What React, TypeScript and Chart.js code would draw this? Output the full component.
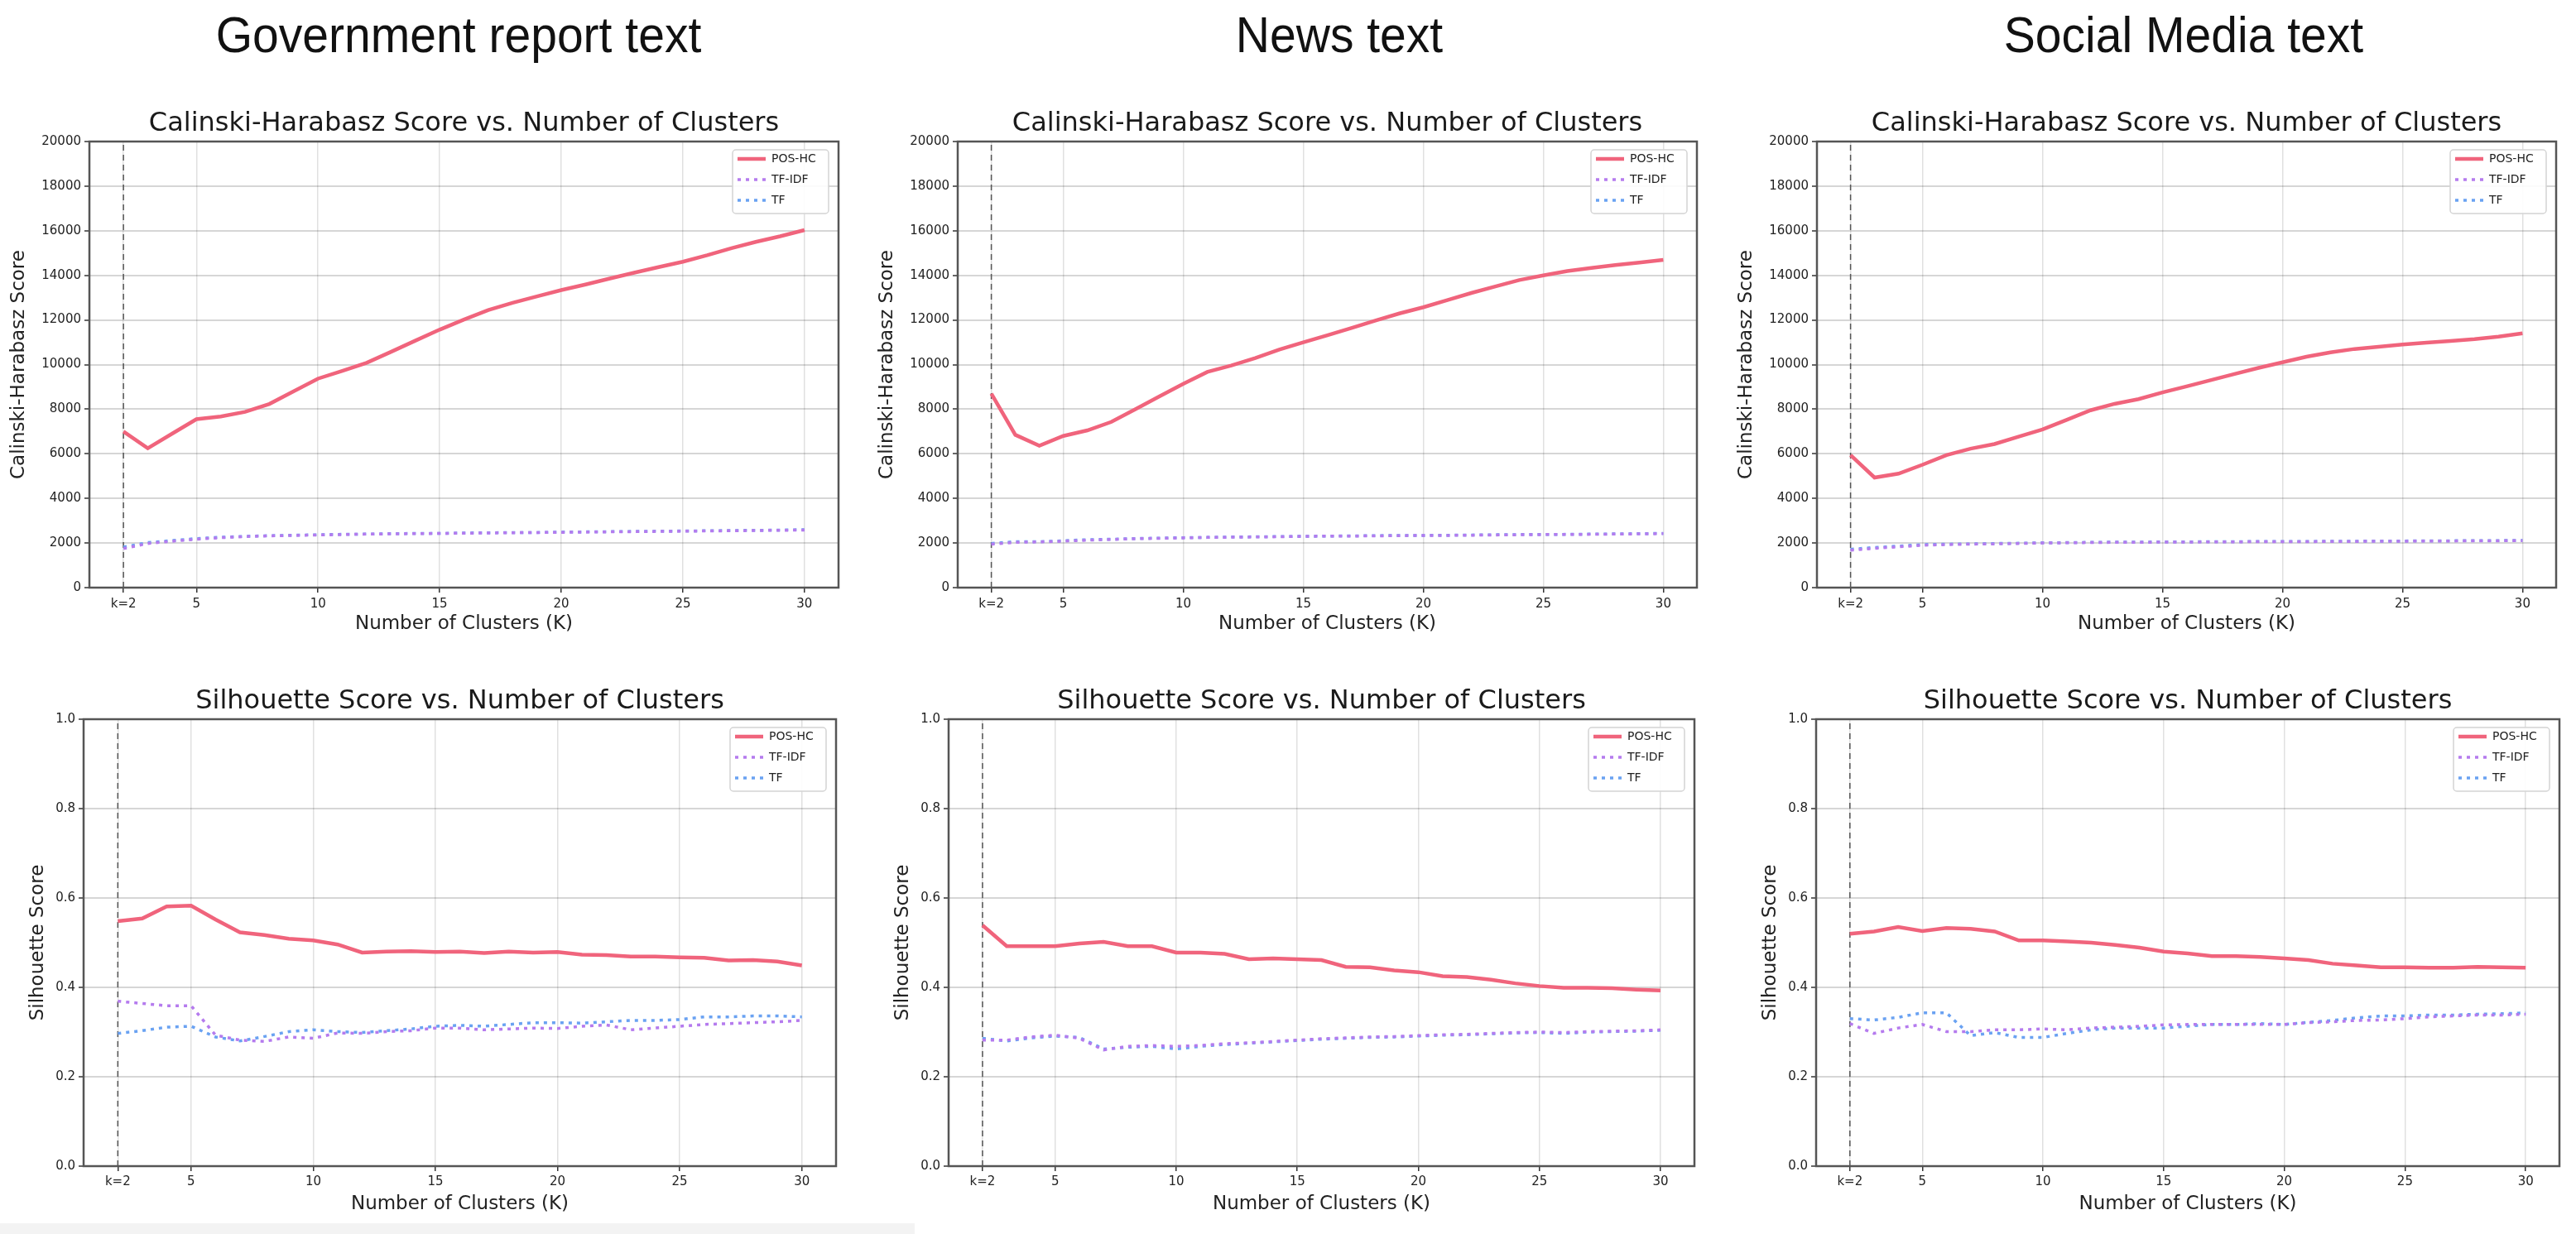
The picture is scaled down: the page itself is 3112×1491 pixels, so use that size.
import React, { useEffect, useRef } from "react";
import { Chart, registerables } from "chart.js";

Chart.register(...registerables);
Chart.defaults.font.family = "'DejaVu Sans', sans-serif";
Chart.defaults.color = "#222";

// ---------- data ----------
const K = [2, 3, 4, 5, 6, 7, 8, 9, 10, 11, 12, 13, 14, 15, 16, 17, 18, 19, 20, 21, 22, 23, 24, 25, 26, 27, 28, 29, 30];
const X_TICKS = [2, 5, 10, 15, 20, 25, 30];
const X_TICK_LABELS = ["k=2", "5", "10", "15", "20", "25", "30"];
const SERIES_LABELS = ["POS-HC", "TF-IDF", "TF"];
const COLUMN_HEADERS = ["Government report text", "News text", "Social Media text"];
const CH_TITLE = "Calinski-Harabasz Score vs. Number of Clusters";
const SIL_TITLE = "Silhouette Score vs. Number of Clusters";
const CH_YLABEL = "Calinski-Harabasz Score";
const SIL_YLABEL = "Silhouette Score";
const X_LABEL = "Number of Clusters (K)";

// Government report text
const GOV_CH_POS = [7000, 6250, 6900, 7550, 7670, 7880, 8235, 8800, 9370, 9720, 10080, 10570, 11070, 11565, 12020, 12445, 12770, 13055, 13340, 13590, 13860, 14120, 14370, 14610, 14900, 15220, 15500, 15750, 16030];
const GOV_CH_TFIDF = [1750, 1980, 2080, 2170, 2240, 2290, 2320, 2340, 2360, 2380, 2400, 2410, 2420, 2430, 2440, 2450, 2460, 2470, 2480, 2490, 2500, 2510, 2520, 2530, 2540, 2550, 2560, 2570, 2580];
const GOV_CH_TF = [1820, 2020, 2110, 2200, 2260, 2300, 2330, 2350, 2370, 2390, 2400, 2420, 2430, 2430, 2450, 2460, 2470, 2470, 2490, 2500, 2510, 2520, 2530, 2540, 2550, 2560, 2570, 2580, 2600];
const GOV_SIL_POS = [0.548, 0.554, 0.581, 0.583, 0.552, 0.523, 0.517, 0.509, 0.505, 0.496, 0.478, 0.480, 0.481, 0.479, 0.480, 0.477, 0.480, 0.478, 0.479, 0.473, 0.472, 0.469, 0.469, 0.467, 0.466, 0.460, 0.461, 0.458, 0.449];
const GOV_SIL_TFIDF = [0.369, 0.364, 0.359, 0.359, 0.293, 0.282, 0.279, 0.289, 0.286, 0.298, 0.297, 0.301, 0.303, 0.309, 0.309, 0.305, 0.307, 0.309, 0.308, 0.313, 0.316, 0.305, 0.309, 0.313, 0.317, 0.319, 0.321, 0.323, 0.326];
const GOV_SIL_TF = [0.297, 0.303, 0.311, 0.313, 0.289, 0.280, 0.290, 0.301, 0.305, 0.301, 0.299, 0.303, 0.307, 0.313, 0.315, 0.313, 0.317, 0.321, 0.321, 0.320, 0.323, 0.326, 0.326, 0.328, 0.334, 0.334, 0.336, 0.336, 0.334];

// News text
const NEWS_CH_POS = [8700, 6850, 6360, 6800, 7050, 7430, 8000, 8570, 9140, 9670, 9960, 10290, 10670, 11000, 11310, 11640, 11970, 12290, 12570, 12890, 13210, 13500, 13790, 14000, 14190, 14330, 14460, 14570, 14690];
const NEWS_CH_TFIDF = [1950, 2030, 2050, 2080, 2130, 2160, 2190, 2210, 2230, 2250, 2260, 2270, 2280, 2300, 2310, 2310, 2320, 2330, 2340, 2340, 2350, 2360, 2370, 2380, 2380, 2390, 2400, 2410, 2420];
const NEWS_CH_TF = [1980, 2060, 2060, 2100, 2150, 2170, 2200, 2220, 2240, 2250, 2270, 2280, 2290, 2300, 2310, 2320, 2330, 2340, 2340, 2350, 2360, 2370, 2380, 2380, 2390, 2400, 2410, 2420, 2430];
const NEWS_SIL_POS = [0.539, 0.492, 0.492, 0.492, 0.498, 0.502, 0.492, 0.492, 0.478, 0.478, 0.475, 0.463, 0.465, 0.463, 0.461, 0.446, 0.445, 0.438, 0.434, 0.425, 0.423, 0.417, 0.409, 0.403, 0.399, 0.399, 0.398, 0.395, 0.393];
const NEWS_SIL_TFIDF = [0.282, 0.282, 0.289, 0.293, 0.286, 0.260, 0.268, 0.270, 0.268, 0.270, 0.274, 0.276, 0.279, 0.282, 0.285, 0.287, 0.289, 0.290, 0.292, 0.294, 0.295, 0.297, 0.299, 0.300, 0.299, 0.301, 0.302, 0.303, 0.305];
const NEWS_SIL_TF = [0.286, 0.280, 0.287, 0.291, 0.288, 0.262, 0.266, 0.268, 0.262, 0.268, 0.272, 0.275, 0.278, 0.281, 0.284, 0.286, 0.288, 0.289, 0.291, 0.293, 0.294, 0.296, 0.298, 0.299, 0.297, 0.300, 0.301, 0.302, 0.304];

// Social Media text
const SOC_CH_POS = [5940, 4935, 5110, 5510, 5940, 6230, 6440, 6770, 7090, 7520, 7950, 8240, 8450, 8750, 9020, 9300, 9580, 9850, 10100, 10350, 10550, 10700, 10800, 10900, 10980, 11060, 11140, 11250, 11400];
const SOC_CH_TFIDF = [1680, 1760, 1830, 1900, 1930, 1950, 1960, 1980, 2000, 2010, 2020, 2030, 2030, 2040, 2040, 2050, 2050, 2060, 2060, 2060, 2070, 2070, 2080, 2080, 2090, 2090, 2100, 2100, 2110];
const SOC_CH_TF = [1720, 1800, 1860, 1930, 1950, 1960, 1980, 1990, 2010, 2020, 2030, 2040, 2040, 2050, 2050, 2060, 2060, 2070, 2070, 2070, 2080, 2080, 2090, 2090, 2100, 2100, 2110, 2110, 2120];
const SOC_SIL_POS = [0.520, 0.525, 0.535, 0.526, 0.533, 0.531, 0.525, 0.505, 0.505, 0.503, 0.500, 0.495, 0.489, 0.480, 0.476, 0.470, 0.470, 0.468, 0.465, 0.461, 0.453, 0.449, 0.445, 0.445, 0.444, 0.444, 0.446, 0.445, 0.444];
const SOC_SIL_TFIDF = [0.319, 0.297, 0.309, 0.317, 0.301, 0.301, 0.305, 0.305, 0.307, 0.305, 0.309, 0.311, 0.313, 0.316, 0.317, 0.317, 0.317, 0.317, 0.317, 0.321, 0.323, 0.326, 0.327, 0.330, 0.334, 0.336, 0.338, 0.338, 0.340];
const SOC_SIL_TF = [0.330, 0.327, 0.333, 0.343, 0.343, 0.292, 0.299, 0.288, 0.288, 0.297, 0.305, 0.309, 0.309, 0.309, 0.313, 0.317, 0.317, 0.319, 0.317, 0.322, 0.326, 0.332, 0.336, 0.336, 0.338, 0.338, 0.340, 0.341, 0.343];

// ---------- styles ----------
const COLORS = ["#f0647c", "#b57bee", "#6aa2f2"];
const WIDTHS = [4.5, 3.5, 3.5];
const DASHES: number[][] = [[], [4, 6], [4, 6]];

const Y_AXIS_W = 100;
const X_AXIS_H = 70;
const TOP_SPACE = 70;
const RIGHT_PAD = 18;

type Area = { L: number; R: number; T: number; B: number };

const ROW_CH = { title: CH_TITLE, yLabel: CH_YLABEL, yMax: 20000, yStep: 2000, dec: 0, yTitlePad: 1.2, xTitlePad: 12.2, tickPad: 5.5 };
const ROW_SIL = { title: SIL_TITLE, yLabel: SIL_YLABEL, yMax: 1, yStep: 0.2, dec: 1, yTitlePad: 31.2, xTitlePad: 10.2, tickPad: 4.5 };

const PANELS = [
  { area: { L: 108, R: 1013, T: 171, B: 710 }, row: ROW_CH, series: [GOV_CH_POS, GOV_CH_TFIDF, GOV_CH_TF] },
  { area: { L: 1157, R: 2050, T: 171, B: 710 }, row: ROW_CH, series: [NEWS_CH_POS, NEWS_CH_TFIDF, NEWS_CH_TF] },
  { area: { L: 2195, R: 3088, T: 171, B: 710 }, row: ROW_CH, series: [SOC_CH_POS, SOC_CH_TFIDF, SOC_CH_TF] },
  { area: { L: 101, R: 1010, T: 869, B: 1409 }, row: ROW_SIL, series: [GOV_SIL_POS, GOV_SIL_TFIDF, GOV_SIL_TF] },
  { area: { L: 1146, R: 2047, T: 869, B: 1409 }, row: ROW_SIL, series: [NEWS_SIL_POS, NEWS_SIL_TFIDF, NEWS_SIL_TF] },
  { area: { L: 2194, R: 3092, T: 869, B: 1409 }, row: ROW_SIL, series: [SOC_SIL_POS, SOC_SIL_TFIDF, SOC_SIL_TF] },
];

const HEADER_CENTERS = [554, 1618, 2638];

// ---------- plugins ----------
const framePlugin = {
  id: "frame",
  afterDraw(chart: any) {
    const { ctx, chartArea: a } = chart;
    ctx.save();
    ctx.strokeStyle = "#555";
    ctx.lineWidth = 2.5;
    ctx.strokeRect(a.left, a.top, a.right - a.left, a.bottom - a.top);
    ctx.restore();
  },
};

const legendPlacePlugin = {
  id: "legendPlace",
  afterLayout(chart: any) {
    const lg = chart.legend;
    if (!lg) return;
    const a = chart.chartArea;
    const pad = 11;
    const lineStart = a.right - 122;
    lg.left = lineStart - pad;
    lg.right = a.right - 2;
    lg.width = lg.right - lg.left;
    lg.top = a.top + 14 - pad;
    lg.bottom = lg.top + 100;
    if (!lg._framed) {
      const orig = lg.draw.bind(lg);
      lg.draw = (ca: any) => {
        const c = chart.ctx;
        const ar = chart.chartArea;
        c.save();
        c.beginPath();
        const fx = ar.right - 128, fy = ar.top + 10, fw = 116, fh = 77;
        if ((c as any).roundRect) (c as any).roundRect(fx, fy, fw, fh, 4);
        else c.rect(fx, fy, fw, fh);
        c.fillStyle = "rgba(255,255,255,0.9)";
        c.fill();
        c.strokeStyle = "#d4d4d4";
        c.lineWidth = 1.5;
        c.stroke();
        c.restore();
        orig(ca);
      };
      lg._framed = true;
    }
  },
};

function Panel({ area, row, series }: { area: Area; row: typeof ROW_CH; series: number[][] }) {
  const ref = useRef<HTMLCanvasElement>(null);
  const w = area.R - area.L + Y_AXIS_W + RIGHT_PAD;
  const h = area.B - area.T + TOP_SPACE + X_AXIS_H;

  useEffect(() => {
    const datasets: any[] = series.map((s, i) => ({
      label: SERIES_LABELS[i],
      data: K.map((k, j) => ({ x: k, y: s[j] })),
      borderColor: COLORS[i],
      backgroundColor: COLORS[i],
      borderWidth: WIDTHS[i],
      borderDash: DASHES[i],
      pointRadius: 0,
      tension: 0,
      fill: false,
    }));
    datasets.push({
      label: "k=2",
      data: [
        { x: X_TICKS[0], y: 0 },
        { x: X_TICKS[0], y: row.yMax },
      ],
      borderColor: "#555",
      backgroundColor: "#555",
      borderWidth: 1.5,
      borderDash: [7, 5],
      pointRadius: 0,
      fill: false,
    });

    const chart = new Chart(ref.current as HTMLCanvasElement, {
      type: "line",
      data: { datasets },
      options: {
        responsive: false,
        maintainAspectRatio: false,
        animation: false,
        events: [],
        layout: { padding: { left: 0, right: RIGHT_PAD, top: TOP_SPACE - 38.4 - 2.5, bottom: 0 } },
        plugins: {
          title: {
            display: true,
            text: row.title,
            fullSize: false,
            color: "#1a1a1a",
            font: { size: 32, weight: "normal", lineHeight: 1.2 },
            padding: { top: 0, bottom: 2.5 },
          },
          legend: {
            position: "chartArea",
            align: "start",
            labels: {
              usePointStyle: true,
              pointStyle: "line",
              pointStyleWidth: 34,
              font: { size: 14 },
              color: "#222",
              padding: 11,
              generateLabels: (c: any) =>
                c.data.datasets.slice(0, 3).map((ds: any, i: number) => ({
                  text: ds.label,
                  fillStyle: ds.borderColor,
                  strokeStyle: ds.borderColor,
                  lineWidth: ds.borderWidth,
                  lineDash: ds.borderDash,
                  lineCap: "butt",
                  pointStyle: "line",
                  hidden: false,
                  datasetIndex: i,
                  fontColor: "#222",
                })),
            },
          },
          tooltip: { enabled: false },
        },
        scales: {
          x: {
            type: "linear",
            min: 0.6,
            max: 31.4,
            afterBuildTicks: (s: any) => {
              s.ticks = X_TICKS.map((v) => ({ value: v }));
            },
            afterFit: (s: any) => {
              s.height = X_AXIS_H;
            },
            ticks: {
              autoSkip: false,
              maxRotation: 0,
              padding: row.tickPad,
              font: { size: 15 },
              color: "#222",
              callback: (v: any) => X_TICK_LABELS[X_TICKS.indexOf(Number(v))] ?? "",
            },
            grid: { color: "rgba(0,0,0,0.12)", lineWidth: 1.5, tickLength: 6, tickColor: "#333", tickWidth: 1.5 },
            border: { display: false },
            title: {
              display: true,
              text: X_LABEL,
              color: "#222",
              font: { size: 23, lineHeight: 1.2 },
              padding: { top: 0, bottom: row.xTitlePad },
            },
          },
          y: {
            type: "linear",
            min: 0,
            max: row.yMax,
            afterFit: (s: any) => {
              s.width = Y_AXIS_W;
            },
            ticks: {
              stepSize: row.yStep,
              padding: 4,
              font: { size: 15 },
              color: "#222",
              callback: (v: any) => Number(v).toFixed(row.dec),
            },
            grid: { color: "rgba(0,0,0,0.16)", lineWidth: 2, tickLength: 6, tickColor: "#333", tickWidth: 1.5 },
            border: { display: false },
            title: {
              display: true,
              text: row.yLabel,
              color: "#222",
              font: { size: 23, lineHeight: 1.2 },
              padding: { top: row.yTitlePad, bottom: 0 },
            },
          },
        },
      } as any,
      plugins: [framePlugin, legendPlacePlugin],
    });
    return () => chart.destroy();
  }, []);

  return (
    <canvas
      ref={ref}
      width={w}
      height={h}
      style={{ position: "absolute", left: area.L - Y_AXIS_W, top: area.T - TOP_SPACE, width: w, height: h }}
    />
  );
}

export default function App() {
  return (
    <div
      style={{
        position: "absolute",
        left: 0,
        top: 0,
        width: 3112,
        height: 1491,
        overflow: "hidden",
        background: "#fff",
      }}
    >
      {COLUMN_HEADERS.map((t, i) => (
        <div
          key={t}
          style={{
            position: "absolute",
            left: HEADER_CENTERS[i] - 500,
            width: 1000,
            top: 11,
            textAlign: "center",
            fontFamily: "'Liberation Sans', Arial, sans-serif",
            fontSize: 62,
            lineHeight: "62px",
            color: "#111",
            transform: "scaleX(0.92)",
            whiteSpace: "nowrap",
          }}
        >
          {t}
        </div>
      ))}
      {PANELS.map((p, i) => (
        <Panel key={i} area={p.area} row={p.row} series={p.series} />
      ))}
      <div style={{ position: "absolute", left: 0, top: 1478, width: 1105, height: 13, background: "#f3f3f3" }} />
    </div>
  );
}
